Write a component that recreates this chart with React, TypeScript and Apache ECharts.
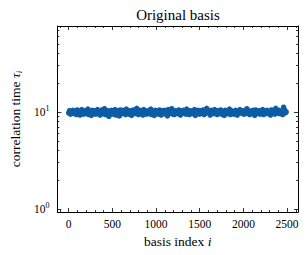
import React, { useEffect, useRef } from "react";
import * as echarts from "echarts";

const title = "Original basis";
const indexStep = 10;
const tau: number[] = [
  9.8, 10.3, 9.5, 10.1, 9.9, 10.4, 9.6, 10.0, 10.2, 9.4,
  10.5, 9.7, 10.1, 9.3, 10.0, 10.6, 9.8, 9.5, 10.3, 10.0,
  9.6, 10.2, 10.7, 9.4, 9.9, 10.1, 9.2, 10.4, 9.8, 10.0,
  10.3, 9.5, 9.9, 10.6, 9.7, 10.0, 9.3, 10.2, 10.5, 9.6,
  9.9, 10.8, 9.4, 10.1, 9.7, 10.3, 9.0, 10.0, 9.8, 10.4,
  9.5, 10.2, 9.9, 10.6, 9.3, 10.0, 10.3, 9.7, 9.1, 10.5,
  10.0, 9.6, 10.4, 9.8, 10.2, 9.4, 10.7, 9.9, 10.1, 9.5,
  10.3, 9.7, 9.2, 10.0, 10.5, 9.8, 10.2, 9.6, 10.9, 9.9,
  9.4, 10.1, 10.4, 9.7, 10.0, 9.3, 10.6, 9.8, 10.2, 9.5,
  10.0, 10.3, 9.6, 9.9, 10.7, 9.4, 10.1, 9.8, 9.2, 10.4,
  9.7, 10.2, 10.0, 9.5, 10.5, 9.9, 9.3, 10.3, 10.1, 9.6,
  10.4, 9.8, 10.0, 9.1, 10.6, 9.7, 10.2, 9.9, 10.8, 9.5,
  10.1, 9.4, 10.3, 9.8, 10.0, 9.6, 10.5, 9.9, 9.3, 10.2,
  9.7, 10.4, 9.9, 10.1, 9.5, 10.7, 9.8, 10.0, 9.4, 10.3,
  10.0, 9.6, 10.2, 9.8, 10.6, 9.2, 10.1, 9.9, 10.4, 9.7,
  9.5, 10.3, 10.0, 9.8, 10.5, 9.4, 10.2, 9.7, 10.9, 10.0,
  9.9, 10.1, 9.3, 10.4, 9.8, 10.0, 9.6, 10.6, 9.9, 10.2,
  9.4, 10.3, 9.7, 10.0, 10.5, 9.5, 10.1, 9.8, 9.2, 10.4,
  10.2, 9.6, 10.0, 9.9, 10.7, 9.4, 10.3, 9.8, 10.1, 9.5,
  10.0, 10.4, 9.7, 9.3, 10.2, 9.9, 10.6, 9.8, 10.0, 9.6,
  10.3, 9.5, 10.1, 9.9, 10.8, 9.7, 10.0, 9.4, 10.2, 9.8,
  9.6, 10.4, 10.0, 9.2, 10.5, 9.9, 10.1, 9.7, 10.3, 9.5,
  10.0, 9.8, 10.6, 9.4, 10.2, 9.9, 9.6, 10.4, 10.0, 9.7,
  10.1, 9.3, 10.5, 9.8, 10.0, 10.3, 9.5, 10.9, 9.9, 10.2,
  9.7, 10.4, 9.6, 10.0, 10.1, 9.4, 11.2, 10.6, 9.8, 10.0,
];
const xMajorTicks = [0, 500, 1000, 1500, 2000, 2500];
const xMinorTicks = [
  -100, 100, 200, 300, 400, 600, 700, 800, 900, 1100, 1200, 1300, 1400,
  1600, 1700, 1800, 1900, 2100, 2200, 2300, 2400, 2600,
];
const yMajorTicks = [1, 10];
const yMinorTicks = [2, 3, 4, 5, 6, 7, 8, 9, 20, 30, 40, 50, 60, 70];
const xRange = [-129, 2625];
const yRange = [0.93, 77];

const lg = (v: number) => Math.log10(v);
const FONT = "'Liberation Serif', 'DejaVu Serif', serif";
const BLACK = "#000";

export default function App() {
  const ref = useRef<HTMLDivElement>(null);
  useEffect(() => {
    const chart = echarts.init(ref.current!, undefined, { renderer: "svg" });
    const yMin = lg(yRange[0]);
    const yMax = lg(yRange[1]);
    const xBase = (position: string, ticks: number[], len: number, main: boolean, labels: boolean) => ({
      type: "value",
      position,
      min: xRange[0],
      max: xRange[1],
      axisLine: { show: main, onZero: false, lineStyle: { color: BLACK, width: 1 } },
      axisTick: { show: true, inside: true, length: len, customValues: ticks, lineStyle: { color: BLACK, width: 0.8 } },
      axisLabel: labels
        ? {
            show: true,
            customValues: xMajorTicks,
            margin: 6,
            color: BLACK,
            fontFamily: FONT,
            fontSize: 11.5,
            formatter: (v: number) => String(v),
          }
        : { show: false },
      splitLine: { show: false },
    });
    const yBase = (position: string, ticks: number[], len: number, main: boolean, labels: boolean) => ({
      type: "value",
      position,
      min: yMin,
      max: yMax,
      axisLine: { show: main, onZero: false, lineStyle: { color: BLACK, width: 1 } },
      axisTick: { show: true, inside: true, length: len, customValues: ticks.map(lg), lineStyle: { color: BLACK, width: 0.8 } },
      axisLabel: labels
        ? {
            show: true,
            customValues: yMajorTicks.map(lg),
            margin: 8,
            formatter: (v: number) => `{b|10}{s|${Math.round(v)}}`,
            rich: {
              b: { fontFamily: FONT, fontSize: 11.5, color: BLACK, lineHeight: 14 },
              s: { fontFamily: FONT, fontSize: 8, color: BLACK, lineHeight: 14, verticalAlign: "top" },
            },
          }
        : { show: false },
      splitLine: { show: false },
    });
    const xAxis: any[] = [
      {
        ...xBase("bottom", xMajorTicks, 4, true, true),
        name: "{a|basis index }{i|i}",
        nameLocation: "middle",
        nameGap: 22,
        nameTextStyle: {
          rich: {
            a: { fontFamily: FONT, fontSize: 13.5, color: BLACK },
            i: { fontFamily: FONT, fontSize: 13.5, color: BLACK, fontStyle: "italic" },
          },
        },
      },
      xBase("bottom", xMinorTicks, 2, false, false),
      xBase("top", xMajorTicks, 4, true, false),
      xBase("top", xMinorTicks, 2, false, false),
    ];
    const yAxis: any[] = [
      {
        ...yBase("left", yMajorTicks, 4, true, true),
        name: "{a|correlation time }{t|τ}{i|i}",
        nameLocation: "middle",
        nameGap: 27,
        nameTextStyle: {
          rich: {
            a: { fontFamily: FONT, fontSize: 13.5, color: BLACK, lineHeight: 16 },
            t: { fontFamily: FONT, fontSize: 13.5, color: BLACK, fontStyle: "italic", lineHeight: 16 },
            i: { fontFamily: FONT, fontSize: 9, color: BLACK, fontStyle: "italic", lineHeight: 16, verticalAlign: "bottom" },
          },
        },
      },
      yBase("left", yMinorTicks, 2, false, false),
      yBase("right", yMajorTicks, 4, true, false),
      yBase("right", yMinorTicks, 2, false, false),
    ];
    chart.setOption({
      animation: false,
      backgroundColor: "#fff",
      title: {
        text: title,
        left: 173,
        textAlign: "center",
        top: 2,
        textStyle: { fontFamily: FONT, fontSize: 15, fontWeight: "normal", color: BLACK },
      },
      grid: { left: 49, right: 8, top: 26, bottom: 43, containLabel: false },
      xAxis,
      yAxis,
      series: [
        {
          type: "scatter",
          xAxisIndex: 0,
          yAxisIndex: 0,
          symbolSize: 5.5,
          itemStyle: { color: "#0C5DA5", opacity: 1 },
          data: tau.map((v, i) => [i * indexStep, lg(v)]),
        },
      ],
    });
    return () => chart.dispose();
  }, []);
  return <div ref={ref} style={{ position: "fixed", left: 0, top: 0, width: 306, height: 255 }} />;
}
